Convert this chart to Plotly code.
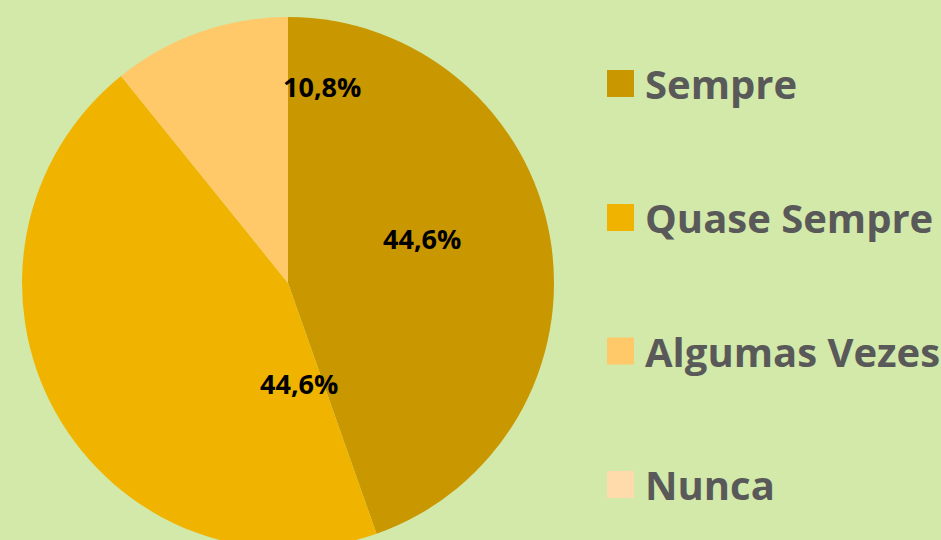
import plotly.graph_objects as go

labels = ["Sempre", "Quase Sempre", "Algumas Vezes", "Nunca"]
values = [44.6, 44.6, 10.8, 0.0]
colors = ["#C99700", "#F0B400", "#FFC869", "#FFDAAA"]

W, H = 941, 560

def px_x(x):
    return x / W

def px_y(y):
    return 1 - y / H

def pct(v):
    return ("%.1f" % v).replace(".", ",") + "%"

fig = go.Figure(go.Pie(
    labels=labels,
    values=values,
    textinfo="none",
    sort=False,
    direction="clockwise",
    rotation=0,
    marker=dict(colors=colors, line=dict(width=0)),
    domain=dict(x=[px_x(22), px_x(554)], y=[px_y(549), px_y(17)]),
    showlegend=False,
    hoverinfo="label+percent",
))

shapes = []
annotations = []

# data labels (manually placed, as in the original chart)
label_pos = [(422, 238), (299, 383), (322, 86), None]
for v, pos in zip(values, label_pos):
    if pos is None or v == 0:
        continue
    annotations.append(dict(text=pct(v), xref="paper", yref="paper",
                            x=px_x(pos[0]), y=px_y(pos[1]),
                            xanchor="center", yanchor="middle", showarrow=False,
                            font=dict(family="Open Sans", size=27, color="black", weight="bold")))

# legend
legend_y = [83.5, 217.5, 351, 484.5]
for lab, col, yc in zip(labels, colors, legend_y):
    shapes.append(dict(type="rect", xref="paper", yref="paper",
                       x0=px_x(607), x1=px_x(634), y0=px_y(yc + 13.5), y1=px_y(yc - 13.5),
                       fillcolor=col, line=dict(width=0), layer="above"))
    annotations.append(dict(text=lab, xref="paper", yref="paper", x=px_x(643), y=px_y(yc),
                            xanchor="left", yanchor="middle", showarrow=False,
                            font=dict(family="Open Sans", size=40, color="#595959", weight="bold")))

fig.update_layout(
    width=W, height=H,
    margin=dict(l=0, r=0, t=0, b=0),
    paper_bgcolor="#D2E9AA",
    plot_bgcolor="#D2E9AA",
    shapes=shapes,
    annotations=annotations,
    separators=",.",
)

fig.write_html("out.html", config={"displayModeBar": False},
               post_script="document.body.style.margin='0';document.body.style.overflow='hidden';")
